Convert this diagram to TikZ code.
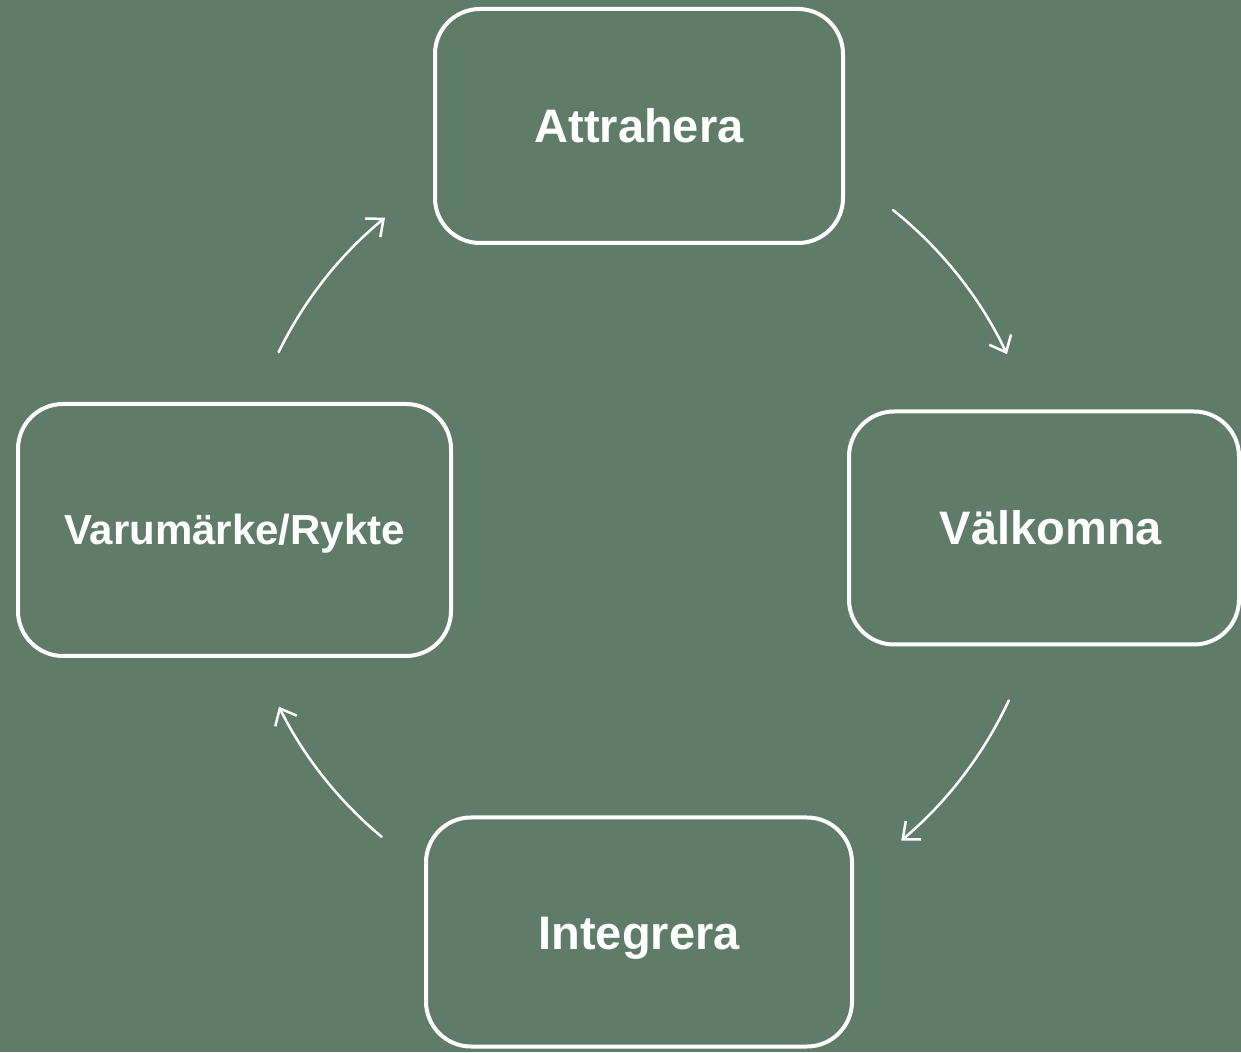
\documentclass[tikz,border=0pt]{standalone}
\usepackage{fontspec}
\setmainfont{Liberation Sans}
\usetikzlibrary{arrows.meta,calc}
\definecolor{bggreen}{RGB}{95,124,105}
\tikzset{
  stage/.style={draw=white, line width=4pt, rounded corners=45pt, text=white,
    font=\bfseries\fontsize{47}{56}\selectfont, inner sep=0pt,
    text height=34pt, text depth=0pt},
  cyc/.style={draw=white, line width=2.5pt, line cap=round,
    -{Straight Barb[length=14pt,width=24pt,line width=2.5pt]}}
}
\begin{document}
\begin{tikzpicture}[x=1pt,y=1pt]
\fill[bggreen] (0,0) rectangle (1241,1052);
\useasboundingbox (0,0) rectangle (1241,1052);
\node[stage, minimum width=408pt, minimum height=234pt] (att) at (639,926) {Attrahera};
\node[stage, minimum width=390pt, minimum height=233pt] (val) at (1044,524) {\hspace*{14pt}Välkomna};
\node[stage, minimum width=433pt, minimum height=252pt, text height=30pt, font=\bfseries\fontsize{42}{50}\selectfont] (var) at (234.5,522) {Varumärke/Rykte};
\node[stage, minimum width=426pt, minimum height=229pt] (int) at (639,120) {Integrera};
\coordinate (c) at (639,524);
\draw[cyc] ($(c)+(51.4:407)$) arc[start angle=51.4, end angle=25.3, radius=407];
\draw[cyc] ($(c)+(-25:408)$) arc[start angle=-25, end angle=-50, radius=408];
\draw[cyc] ($(c)+(-129.8:402)$) arc[start angle=-129.8, end angle=-153.6, radius=402];
\draw[cyc] ($(c)+(154:401)$) arc[start angle=154, end angle=129.3, radius=401];
\end{tikzpicture}
\end{document}
